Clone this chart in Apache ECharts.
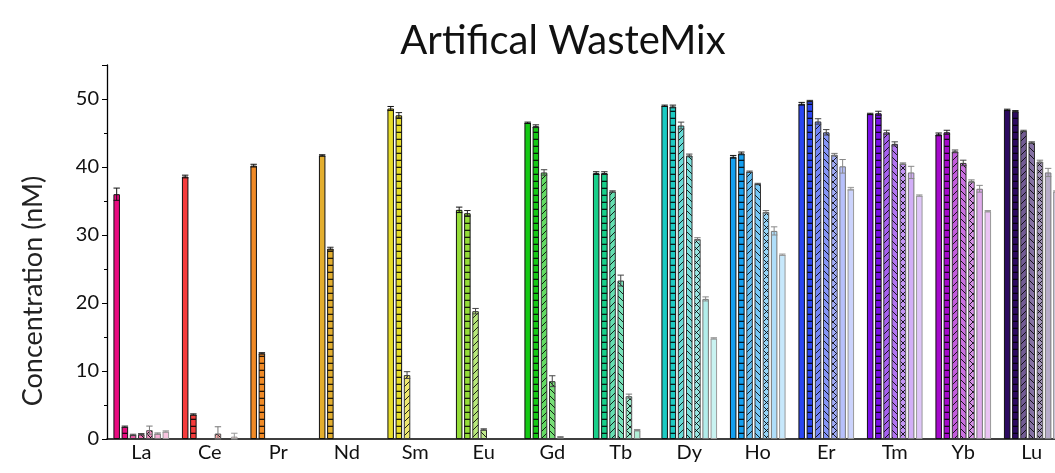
<!DOCTYPE html>
<html><head><meta charset="utf-8">
<script src="https://cdn.jsdelivr.net/npm/echarts@6/dist/echarts.min.js"></script>
<style>html,body{margin:0;padding:0;background:#fff;overflow:hidden;width:1055px;height:473px}#c{width:1066px;height:473px}</style>
</head><body><div id="c"></div>
<script>
const categories = ['La','Ce','Pr','Nd','Sm','Eu','Gd','Tb','Dy','Ho','Er','Tm','Yb','Lu'];
// seven sample series, one value per element
const s0 = [36.0, 38.6, 40.2, 41.7, 48.6, 33.7, 46.5, 39.1, 49.0, 41.5, 49.3, 47.8, 44.8, 48.4];
const s1 = [1.8, 3.6, 12.6, 28.0, 47.6, 33.2, 46.0, 39.1, 48.9, 42.0, 49.7, 47.9, 45.1, 48.2];
const s2 = [0.6, 0, 0, 0, 9.4, 18.8, 39.2, 36.4, 46.1, 39.3, 46.7, 45.1, 42.3, 45.3];
const s3 = [0.7, 0, 0, 0, 0, 1.4, 8.5, 23.3, 41.7, 37.5, 45.1, 43.4, 40.6, 43.6];
const s4 = [1.3, 0.8, 0, 0, 0, 0, 0.25, 6.3, 29.4, 33.4, 41.8, 40.5, 37.9, 40.8];
const s5 = [0.8, 0, 0, 0, 0, 0, 0, 1.3, 20.6, 30.6, 40.1, 39.2, 36.8, 39.2];
const s6 = [1.1, 0.35, 0, 0, 0, 0, 0, 0, 14.8, 27.1, 36.8, 35.8, 33.5, 36.4];
// standard deviations
const e0 = [0.9, 0.2, 0.2, 0.1, 0.3, 0.4, 0.1, 0.2, 0.1, 0.2, 0.2, 0.1, 0.2, 0.1];
const e1 = [0.1, 0.1, 0.1, 0.2, 0.4, 0.4, 0.2, 0.2, 0.2, 0.2, 0.1, 0.3, 0.3, 0.1];
const e2 = [0.1, 0, 0, 0, 0.5, 0.4, 0.4, 0.1, 0.5, 0.1, 0.4, 0.3, 0.2, 0.1];
const e3 = [0.1, 0, 0, 0, 0, 0.1, 0.8, 0.8, 0.2, 0.1, 0.4, 0.3, 0.4, 0.1];
const e4 = [0.6, 1.0, 0, 0, 0, 0, 0.1, 0.3, 0.2, 0.2, 0.2, 0.1, 0.2, 0.2];
const e5 = [0.1, 0, 0, 0, 0, 0, 0, 0.1, 0.3, 0.6, 1.0, 0.9, 0.5, 0.6];
const e6 = [0.1, 0.5, 0, 0, 0, 0, 0, 0, 0.1, 0.1, 0.2, 0.1, 0.1, 0.1];
const yTicks = [0, 10, 20, 30, 40, 50];

const values = [s0, s1, s2, s3, s4, s5, s6];
const errors = [e0, e1, e2, e3, e4, e5, e6];
const baseColors = ['#E80C80','#F53B3B','#F08A26','#E3AE2E','#E6DC2A','#94DC38','#14C814','#18CF8A','#1CCBC3','#149FF0','#2B46F2','#7A10E8','#A60ACB','#2C0A60'];
const lighten = [0, 0, 0.33, 0.42, 0.55, 0.66, 0.76];
const patterns = ['solid','hline','fwd','back','cross','solid','solid'];
const borders = ['#111','#111','#333','#333','#555','#777','#999'];
const errColors = ['#111','#222','#444','#444','#777','#888','#999'];

function mix(hex, f){
  const n = parseInt(hex.slice(1),16);
  let r=(n>>16)&255,g=(n>>8)&255,b=n&255;
  r=Math.round(r+(255-r)*f); g=Math.round(g+(255-g)*f); b=Math.round(b+(255-b)*f);
  return 'rgb('+r+','+g+','+b+')';
}
function makeFill(col, type){
  if(type==='solid') return col;
  const c = document.createElement('canvas');
  let w=7,h=7;
  if(type==='hline'){w=8;h=7;}
  c.width=w;c.height=h;
  const x=c.getContext('2d');
  x.fillStyle=col;x.fillRect(0,0,w,h);
  x.strokeStyle='rgba(0,0,0,0.85)';x.fillStyle='rgba(0,0,0,0.85)';x.lineWidth=1;
  if(type==='hline'){x.fillRect(0,h-1.3,w,1.3);}
  else{
    const dl=(a,b,cc,d)=>{x.beginPath();x.moveTo(a,b);x.lineTo(cc,d);x.stroke();};
    if(type==='fwd'||type==='cross'){dl(-1,h+1,w+1,-1);dl(-1,1,1,-1);dl(w-1,h+1,w+1,h-1);}
    if(type==='back'||type==='cross'){dl(-1,-1,w+1,h+1);dl(w-1,-1,w+1,1);dl(-1,h-1,1,h+1);}
  }
  return {image:c, repeat:'repeat'};
}

const barW = 6.5, gapPct = 0.26, slot = barW*(1+gapPct);
const series = values.map((arr,k)=>({
  type:'bar', name:'S'+k, barWidth:barW, barGap:(gapPct*100)+'%',
  data: arr.map((v,i)=>({value:v, itemStyle:{
    color: makeFill(mix(baseColors[i], lighten[k]), patterns[k]),
    borderColor: borders[k], borderWidth: v>0?1:0 }})),
  z:2
}));
const errData=[];
values.forEach((arr,k)=>arr.forEach((v,i)=>{ if(errors[k][i]>0) errData.push([i, v, errors[k][i], k]); }));
series.push({
  type:'custom', z:5, data: errData, encode:{x:0,y:1},
  renderItem:(params,api)=>{
    const i=api.value(0), v=api.value(1), e=api.value(2), k=api.value(3);
    const off=(k-3)*slot;
    const top=api.coord([i, v+e]), bot=api.coord([i, Math.max(0,v-e)]);
    const x=top[0]+off, cw=3.2;
    const st={stroke:errColors[k], lineWidth:1};
    return {type:'group', children:[
      {type:'line', shape:{x1:x,y1:top[1],x2:x,y2:bot[1]}, style:st},
      {type:'line', shape:{x1:x-cw,y1:top[1],x2:x+cw,y2:top[1]}, style:st},
      {type:'line', shape:{x1:x-cw,y1:bot[1],x2:x+cw,y2:bot[1]}, style:st}
    ]};
  }
});

const chart = echarts.init(document.getElementById('c'), null, {renderer:'canvas'});
chart.setOption({
  animation:false,
  title:{text:'Artifical WasteMix', left:558, top:16, textAlign:'center',
    textStyle:{fontFamily:'Lato', fontWeight:'normal', fontSize:40, color:'#111'}},
  graphic:[{type:'text', x:33, y:291, rotation:Math.PI/2,
    style:{text:'Concentration (nM)', font:'27px Lato', fill:'#222', textAlign:'center', textVerticalAlign:'middle'}}],
  grid:{left:107, top:65, right:0, bottom:34},
  xAxis:{type:'category', data:categories, boundaryGap:true,
    axisLine:{lineStyle:{color:'#000', width:1.5}},
    axisTick:{alignWithLabel:true, length:5, inside:false, lineStyle:{color:'#000'}},
    axisLabel:{fontFamily:'Lato', fontSize:20, color:'#111', margin:4}},
  yAxis:{type:'value', min:0, max:55, interval:10,
    axisLine:{show:true, lineStyle:{color:'#000', width:1.3}},
    axisTick:{show:true, length:5, lineStyle:{color:'#000'}},
    minorTick:{show:true, splitNumber:2, length:3, lineStyle:{color:'#000'}},
    splitLine:{show:false},
    axisLabel:{fontFamily:'Lato', fontSize:20, color:'#111', margin:8, showMaxLabel:false,
      formatter:v=>yTicks.includes(v)?String(v):''}},
  series
});
</script></body></html>
